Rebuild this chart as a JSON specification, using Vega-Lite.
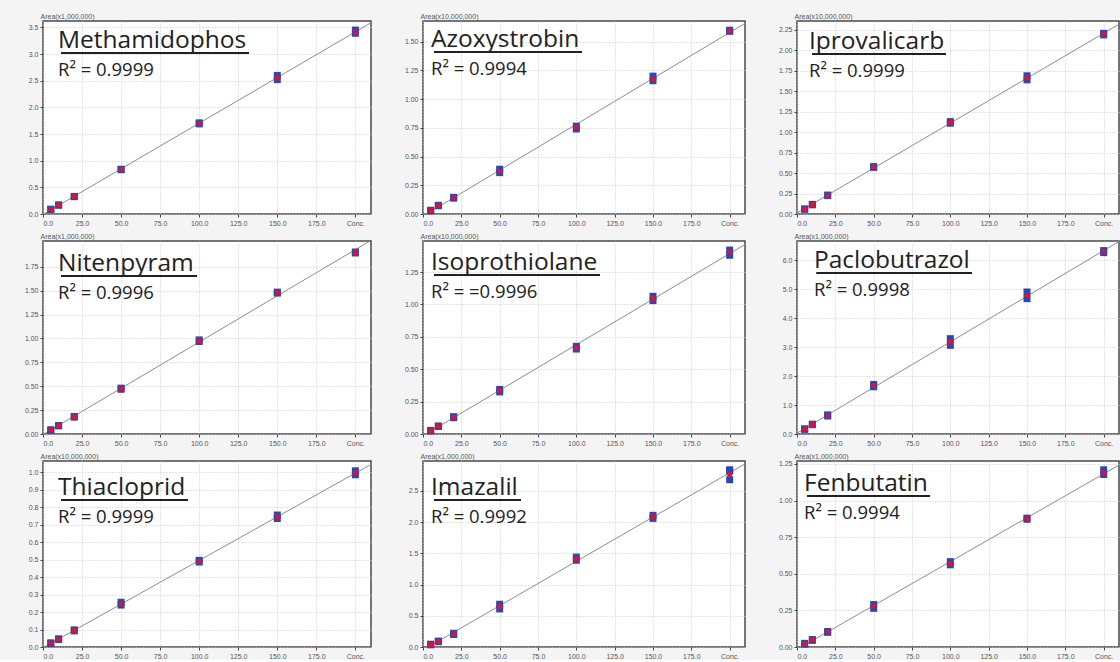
{
  "$schema": "https://vega.github.io/schema/vega-lite/v6.json",
  "background": "#f4f4f4",
  "padding": {"left": 23, "top": 11, "right": 0, "bottom": 0},
  "columns": 3,
  "align": "each",
  "bounds": "flush",
  "spacing": {"row": 27, "column": 52},
  "datasets": {
    "cal": [
      {"c": "Methamidophos", "x": 5, "y": 0.085, "k": "rep"},
      {"c": "Methamidophos", "x": 5, "y": 0.09, "k": "rep"},
      {"c": "Methamidophos", "x": 5, "y": 0.088, "k": "mean"},
      {"c": "Methamidophos", "x": 10, "y": 0.165, "k": "rep"},
      {"c": "Methamidophos", "x": 10, "y": 0.17, "k": "rep"},
      {"c": "Methamidophos", "x": 10, "y": 0.168, "k": "mean"},
      {"c": "Methamidophos", "x": 20, "y": 0.325, "k": "rep"},
      {"c": "Methamidophos", "x": 20, "y": 0.33, "k": "rep"},
      {"c": "Methamidophos", "x": 20, "y": 0.328, "k": "mean"},
      {"c": "Methamidophos", "x": 50, "y": 0.83, "k": "rep"},
      {"c": "Methamidophos", "x": 50, "y": 0.84, "k": "rep"},
      {"c": "Methamidophos", "x": 50, "y": 0.835, "k": "mean"},
      {"c": "Methamidophos", "x": 100, "y": 1.69, "k": "rep"},
      {"c": "Methamidophos", "x": 100, "y": 1.71, "k": "rep"},
      {"c": "Methamidophos", "x": 100, "y": 1.7, "k": "mean"},
      {"c": "Methamidophos", "x": 150, "y": 2.52, "k": "rep"},
      {"c": "Methamidophos", "x": 150, "y": 2.6, "k": "rep"},
      {"c": "Methamidophos", "x": 150, "y": 2.55, "k": "mean"},
      {"c": "Methamidophos", "x": 200, "y": 3.39, "k": "rep"},
      {"c": "Methamidophos", "x": 200, "y": 3.45, "k": "rep"},
      {"c": "Methamidophos", "x": 200, "y": 3.41, "k": "mean"},

      {"c": "Azoxystrobin", "x": 5, "y": 0.028, "k": "rep"},
      {"c": "Azoxystrobin", "x": 5, "y": 0.033, "k": "rep"},
      {"c": "Azoxystrobin", "x": 5, "y": 0.03, "k": "mean"},
      {"c": "Azoxystrobin", "x": 10, "y": 0.072, "k": "rep"},
      {"c": "Azoxystrobin", "x": 10, "y": 0.076, "k": "rep"},
      {"c": "Azoxystrobin", "x": 10, "y": 0.074, "k": "mean"},
      {"c": "Azoxystrobin", "x": 20, "y": 0.138, "k": "rep"},
      {"c": "Azoxystrobin", "x": 20, "y": 0.145, "k": "rep"},
      {"c": "Azoxystrobin", "x": 20, "y": 0.141, "k": "mean"},
      {"c": "Azoxystrobin", "x": 50, "y": 0.36, "k": "rep"},
      {"c": "Azoxystrobin", "x": 50, "y": 0.39, "k": "rep"},
      {"c": "Azoxystrobin", "x": 50, "y": 0.372, "k": "mean"},
      {"c": "Azoxystrobin", "x": 100, "y": 0.74, "k": "rep"},
      {"c": "Azoxystrobin", "x": 100, "y": 0.765, "k": "rep"},
      {"c": "Azoxystrobin", "x": 100, "y": 0.755, "k": "mean"},
      {"c": "Azoxystrobin", "x": 150, "y": 1.16, "k": "rep"},
      {"c": "Azoxystrobin", "x": 150, "y": 1.2, "k": "rep"},
      {"c": "Azoxystrobin", "x": 150, "y": 1.175, "k": "mean"},
      {"c": "Azoxystrobin", "x": 200, "y": 1.59, "k": "rep"},
      {"c": "Azoxystrobin", "x": 200, "y": 1.6, "k": "rep"},
      {"c": "Azoxystrobin", "x": 200, "y": 1.595, "k": "mean"},

      {"c": "Iprovalicarb", "x": 5, "y": 0.058, "k": "rep"},
      {"c": "Iprovalicarb", "x": 5, "y": 0.062, "k": "rep"},
      {"c": "Iprovalicarb", "x": 5, "y": 0.06, "k": "mean"},
      {"c": "Iprovalicarb", "x": 10, "y": 0.112, "k": "rep"},
      {"c": "Iprovalicarb", "x": 10, "y": 0.118, "k": "rep"},
      {"c": "Iprovalicarb", "x": 10, "y": 0.115, "k": "mean"},
      {"c": "Iprovalicarb", "x": 20, "y": 0.225, "k": "rep"},
      {"c": "Iprovalicarb", "x": 20, "y": 0.232, "k": "rep"},
      {"c": "Iprovalicarb", "x": 20, "y": 0.228, "k": "mean"},
      {"c": "Iprovalicarb", "x": 50, "y": 0.57, "k": "rep"},
      {"c": "Iprovalicarb", "x": 50, "y": 0.58, "k": "rep"},
      {"c": "Iprovalicarb", "x": 50, "y": 0.575, "k": "mean"},
      {"c": "Iprovalicarb", "x": 100, "y": 1.11, "k": "rep"},
      {"c": "Iprovalicarb", "x": 100, "y": 1.13, "k": "rep"},
      {"c": "Iprovalicarb", "x": 100, "y": 1.12, "k": "mean"},
      {"c": "Iprovalicarb", "x": 150, "y": 1.64, "k": "rep"},
      {"c": "Iprovalicarb", "x": 150, "y": 1.69, "k": "rep"},
      {"c": "Iprovalicarb", "x": 150, "y": 1.665, "k": "mean"},
      {"c": "Iprovalicarb", "x": 200, "y": 2.19, "k": "rep"},
      {"c": "Iprovalicarb", "x": 200, "y": 2.21, "k": "rep"},
      {"c": "Iprovalicarb", "x": 200, "y": 2.2, "k": "mean"},

      {"c": "Nitenpyram", "x": 5, "y": 0.04, "k": "rep"},
      {"c": "Nitenpyram", "x": 5, "y": 0.044, "k": "rep"},
      {"c": "Nitenpyram", "x": 5, "y": 0.042, "k": "mean"},
      {"c": "Nitenpyram", "x": 10, "y": 0.085, "k": "rep"},
      {"c": "Nitenpyram", "x": 10, "y": 0.089, "k": "rep"},
      {"c": "Nitenpyram", "x": 10, "y": 0.087, "k": "mean"},
      {"c": "Nitenpyram", "x": 20, "y": 0.176, "k": "rep"},
      {"c": "Nitenpyram", "x": 20, "y": 0.184, "k": "rep"},
      {"c": "Nitenpyram", "x": 20, "y": 0.18, "k": "mean"},
      {"c": "Nitenpyram", "x": 50, "y": 0.468, "k": "rep"},
      {"c": "Nitenpyram", "x": 50, "y": 0.48, "k": "rep"},
      {"c": "Nitenpyram", "x": 50, "y": 0.474, "k": "mean"},
      {"c": "Nitenpyram", "x": 100, "y": 0.968, "k": "rep"},
      {"c": "Nitenpyram", "x": 100, "y": 0.985, "k": "rep"},
      {"c": "Nitenpyram", "x": 100, "y": 0.976, "k": "mean"},
      {"c": "Nitenpyram", "x": 150, "y": 1.475, "k": "rep"},
      {"c": "Nitenpyram", "x": 150, "y": 1.485, "k": "rep"},
      {"c": "Nitenpyram", "x": 150, "y": 1.48, "k": "mean"},
      {"c": "Nitenpyram", "x": 200, "y": 1.895, "k": "rep"},
      {"c": "Nitenpyram", "x": 200, "y": 1.905, "k": "rep"},
      {"c": "Nitenpyram", "x": 200, "y": 1.9, "k": "mean"},

      {"c": "Isoprothiolane", "x": 5, "y": 0.024, "k": "rep"},
      {"c": "Isoprothiolane", "x": 5, "y": 0.028, "k": "rep"},
      {"c": "Isoprothiolane", "x": 5, "y": 0.026, "k": "mean"},
      {"c": "Isoprothiolane", "x": 10, "y": 0.058, "k": "rep"},
      {"c": "Isoprothiolane", "x": 10, "y": 0.062, "k": "rep"},
      {"c": "Isoprothiolane", "x": 10, "y": 0.06, "k": "mean"},
      {"c": "Isoprothiolane", "x": 20, "y": 0.126, "k": "rep"},
      {"c": "Isoprothiolane", "x": 20, "y": 0.134, "k": "rep"},
      {"c": "Isoprothiolane", "x": 20, "y": 0.13, "k": "mean"},
      {"c": "Isoprothiolane", "x": 50, "y": 0.325, "k": "rep"},
      {"c": "Isoprothiolane", "x": 50, "y": 0.344, "k": "rep"},
      {"c": "Isoprothiolane", "x": 50, "y": 0.336, "k": "mean"},
      {"c": "Isoprothiolane", "x": 100, "y": 0.656, "k": "rep"},
      {"c": "Isoprothiolane", "x": 100, "y": 0.677, "k": "rep"},
      {"c": "Isoprothiolane", "x": 100, "y": 0.667, "k": "mean"},
      {"c": "Isoprothiolane", "x": 150, "y": 1.03, "k": "rep"},
      {"c": "Isoprothiolane", "x": 150, "y": 1.063, "k": "rep"},
      {"c": "Isoprothiolane", "x": 150, "y": 1.047, "k": "mean"},
      {"c": "Isoprothiolane", "x": 200, "y": 1.38, "k": "rep"},
      {"c": "Isoprothiolane", "x": 200, "y": 1.42, "k": "rep"},
      {"c": "Isoprothiolane", "x": 200, "y": 1.406, "k": "mean"},

      {"c": "Paclobutrazol", "x": 5, "y": 0.16, "k": "rep"},
      {"c": "Paclobutrazol", "x": 5, "y": 0.18, "k": "rep"},
      {"c": "Paclobutrazol", "x": 5, "y": 0.17, "k": "mean"},
      {"c": "Paclobutrazol", "x": 10, "y": 0.32, "k": "rep"},
      {"c": "Paclobutrazol", "x": 10, "y": 0.34, "k": "rep"},
      {"c": "Paclobutrazol", "x": 10, "y": 0.33, "k": "mean"},
      {"c": "Paclobutrazol", "x": 20, "y": 0.62, "k": "rep"},
      {"c": "Paclobutrazol", "x": 20, "y": 0.66, "k": "rep"},
      {"c": "Paclobutrazol", "x": 20, "y": 0.64, "k": "mean"},
      {"c": "Paclobutrazol", "x": 50, "y": 1.63, "k": "rep"},
      {"c": "Paclobutrazol", "x": 50, "y": 1.71, "k": "rep"},
      {"c": "Paclobutrazol", "x": 50, "y": 1.67, "k": "mean"},
      {"c": "Paclobutrazol", "x": 100, "y": 3.06, "k": "rep"},
      {"c": "Paclobutrazol", "x": 100, "y": 3.29, "k": "rep"},
      {"c": "Paclobutrazol", "x": 100, "y": 3.17, "k": "mean"},
      {"c": "Paclobutrazol", "x": 150, "y": 4.67, "k": "rep"},
      {"c": "Paclobutrazol", "x": 150, "y": 4.9, "k": "rep"},
      {"c": "Paclobutrazol", "x": 150, "y": 4.79, "k": "mean"},
      {"c": "Paclobutrazol", "x": 200, "y": 6.26, "k": "rep"},
      {"c": "Paclobutrazol", "x": 200, "y": 6.33, "k": "rep"},
      {"c": "Paclobutrazol", "x": 200, "y": 6.3, "k": "mean"},

      {"c": "Thiacloprid", "x": 5, "y": 0.02, "k": "rep"},
      {"c": "Thiacloprid", "x": 5, "y": 0.024, "k": "rep"},
      {"c": "Thiacloprid", "x": 5, "y": 0.022, "k": "mean"},
      {"c": "Thiacloprid", "x": 10, "y": 0.043, "k": "rep"},
      {"c": "Thiacloprid", "x": 10, "y": 0.047, "k": "rep"},
      {"c": "Thiacloprid", "x": 10, "y": 0.045, "k": "mean"},
      {"c": "Thiacloprid", "x": 20, "y": 0.092, "k": "rep"},
      {"c": "Thiacloprid", "x": 20, "y": 0.098, "k": "rep"},
      {"c": "Thiacloprid", "x": 20, "y": 0.095, "k": "mean"},
      {"c": "Thiacloprid", "x": 50, "y": 0.24, "k": "rep"},
      {"c": "Thiacloprid", "x": 50, "y": 0.256, "k": "rep"},
      {"c": "Thiacloprid", "x": 50, "y": 0.247, "k": "mean"},
      {"c": "Thiacloprid", "x": 100, "y": 0.486, "k": "rep"},
      {"c": "Thiacloprid", "x": 100, "y": 0.496, "k": "rep"},
      {"c": "Thiacloprid", "x": 100, "y": 0.49, "k": "mean"},
      {"c": "Thiacloprid", "x": 150, "y": 0.735, "k": "rep"},
      {"c": "Thiacloprid", "x": 150, "y": 0.755, "k": "rep"},
      {"c": "Thiacloprid", "x": 150, "y": 0.745, "k": "mean"},
      {"c": "Thiacloprid", "x": 200, "y": 0.985, "k": "rep"},
      {"c": "Thiacloprid", "x": 200, "y": 1.008, "k": "rep"},
      {"c": "Thiacloprid", "x": 200, "y": 0.997, "k": "mean"},

      {"c": "Imazalil", "x": 5, "y": 0.035, "k": "rep"},
      {"c": "Imazalil", "x": 5, "y": 0.045, "k": "rep"},
      {"c": "Imazalil", "x": 5, "y": 0.04, "k": "mean"},
      {"c": "Imazalil", "x": 10, "y": 0.085, "k": "rep"},
      {"c": "Imazalil", "x": 10, "y": 0.095, "k": "rep"},
      {"c": "Imazalil", "x": 10, "y": 0.09, "k": "mean"},
      {"c": "Imazalil", "x": 20, "y": 0.2, "k": "rep"},
      {"c": "Imazalil", "x": 20, "y": 0.22, "k": "rep"},
      {"c": "Imazalil", "x": 20, "y": 0.21, "k": "mean"},
      {"c": "Imazalil", "x": 50, "y": 0.61, "k": "rep"},
      {"c": "Imazalil", "x": 50, "y": 0.685, "k": "rep"},
      {"c": "Imazalil", "x": 50, "y": 0.65, "k": "mean"},
      {"c": "Imazalil", "x": 100, "y": 1.39, "k": "rep"},
      {"c": "Imazalil", "x": 100, "y": 1.44, "k": "rep"},
      {"c": "Imazalil", "x": 100, "y": 1.41, "k": "mean"},
      {"c": "Imazalil", "x": 150, "y": 2.06, "k": "rep"},
      {"c": "Imazalil", "x": 150, "y": 2.11, "k": "rep"},
      {"c": "Imazalil", "x": 150, "y": 2.09, "k": "mean"},
      {"c": "Imazalil", "x": 200, "y": 2.68, "k": "rep"},
      {"c": "Imazalil", "x": 200, "y": 2.82, "k": "rep"},
      {"c": "Imazalil", "x": 200, "y": 2.84, "k": "rep"},
      {"c": "Imazalil", "x": 200, "y": 2.77, "k": "mean"},

      {"c": "Fenbutatin", "x": 5, "y": 0.019, "k": "rep"},
      {"c": "Fenbutatin", "x": 5, "y": 0.025, "k": "rep"},
      {"c": "Fenbutatin", "x": 5, "y": 0.022, "k": "mean"},
      {"c": "Fenbutatin", "x": 10, "y": 0.045, "k": "rep"},
      {"c": "Fenbutatin", "x": 10, "y": 0.051, "k": "rep"},
      {"c": "Fenbutatin", "x": 10, "y": 0.048, "k": "mean"},
      {"c": "Fenbutatin", "x": 20, "y": 0.1, "k": "rep"},
      {"c": "Fenbutatin", "x": 20, "y": 0.106, "k": "rep"},
      {"c": "Fenbutatin", "x": 20, "y": 0.103, "k": "mean"},
      {"c": "Fenbutatin", "x": 50, "y": 0.264, "k": "rep"},
      {"c": "Fenbutatin", "x": 50, "y": 0.29, "k": "rep"},
      {"c": "Fenbutatin", "x": 50, "y": 0.279, "k": "mean"},
      {"c": "Fenbutatin", "x": 100, "y": 0.561, "k": "rep"},
      {"c": "Fenbutatin", "x": 100, "y": 0.583, "k": "rep"},
      {"c": "Fenbutatin", "x": 100, "y": 0.568, "k": "mean"},
      {"c": "Fenbutatin", "x": 150, "y": 0.872, "k": "rep"},
      {"c": "Fenbutatin", "x": 150, "y": 0.88, "k": "rep"},
      {"c": "Fenbutatin", "x": 150, "y": 0.876, "k": "mean"},
      {"c": "Fenbutatin", "x": 200, "y": 1.178, "k": "rep"},
      {"c": "Fenbutatin", "x": 200, "y": 1.21, "k": "rep"},
      {"c": "Fenbutatin", "x": 200, "y": 1.19, "k": "mean"}
    ]
  },
  "concat": [
    {
      "width": 328, "height": 193,
      "title": {"text": "Methamidophos", "subtitle": "R² = 0.9999", "dx": 15, "dy": 72},
      "data": {"name": "cal"},
      "transform": [{"filter": "datum.c == 'Methamidophos'"}],
      "encoding": {
        "x": {"field": "x", "type": "quantitative", "scale": {"domain": [0, 210], "nice": false, "zero": false}, "axis": {"values": [0, 25, 50, 75, 100, 125, 150, 175, 200], "labelExpr": "datum.value == 200 ? 'Conc.' : format(datum.value, '.1f')", "title": null}},
        "y": {"field": "y", "type": "quantitative", "scale": {"domain": [0, 3.62], "nice": false, "zero": false}, "axis": {"values": [0, 0.5, 1, 1.5, 2, 2.5, 3, 3.5], "format": ".1f", "title": "Area(x1,000,000)"}}
      },
      "layer": [
        {"mark": {"type": "rule", "color": "#222", "strokeWidth": 1.5}, "encoding": {"x": {"datum": 11.5}, "x2": {"datum": 131.9}, "y": {"datum": 3.02}}},
        {"transform": [{"filter": "datum.k == 'rep'"}, {"regression": "y", "on": "x", "extent": [0, 210]}], "mark": {"type": "line", "color": "#8c8c8c", "strokeWidth": 1, "clip": true}},
        {"transform": [{"filter": "datum.k == 'rep'"}], "mark": {"type": "square", "size": 49, "color": "#2e46b4", "opacity": 1}},
        {"transform": [{"filter": "datum.k == 'mean'"}], "mark": {"type": "square", "size": 22, "color": "#e3112c", "opacity": 1}}
      ]
    },
    {
      "width": 322, "height": 193,
      "title": {"text": "Azoxystrobin", "subtitle": "R² = 0.9994", "dx": 8, "dy": 71},
      "data": {"name": "cal"},
      "transform": [{"filter": "datum.c == 'Azoxystrobin'"}],
      "encoding": {
        "x": {"field": "x", "type": "quantitative", "scale": {"domain": [0, 210], "nice": false, "zero": false}, "axis": {"values": [0, 25, 50, 75, 100, 125, 150, 175, 200], "labelExpr": "datum.value == 200 ? 'Conc.' : format(datum.value, '.1f')", "title": null}},
        "y": {"field": "y", "type": "quantitative", "scale": {"domain": [0, 1.68], "nice": false, "zero": false}, "axis": {"values": [0, 0.25, 0.5, 0.75, 1, 1.25, 1.5], "format": ".2f", "title": "Area(x10,000,000)"}}
      },
      "layer": [
        {"mark": {"type": "rule", "color": "#222", "strokeWidth": 1.5}, "encoding": {"x": {"datum": 7.2}, "x2": {"datum": 103.7}, "y": {"datum": 1.41}}},
        {"transform": [{"filter": "datum.k == 'rep'"}, {"regression": "y", "on": "x", "extent": [0, 210]}], "mark": {"type": "line", "color": "#8c8c8c", "strokeWidth": 1, "clip": true}},
        {"transform": [{"filter": "datum.k == 'rep'"}], "mark": {"type": "square", "size": 49, "color": "#2e46b4", "opacity": 1}},
        {"transform": [{"filter": "datum.k == 'mean'"}], "mark": {"type": "square", "size": 22, "color": "#e3112c", "opacity": 1}}
      ]
    },
    {
      "width": 322, "height": 193,
      "title": {"text": "Iprovalicarb", "subtitle": "R² = 0.9999", "dx": 12, "dy": 73},
      "data": {"name": "cal"},
      "transform": [{"filter": "datum.c == 'Iprovalicarb'"}],
      "encoding": {
        "x": {"field": "x", "type": "quantitative", "scale": {"domain": [0, 210], "nice": false, "zero": false}, "axis": {"values": [0, 25, 50, 75, 100, 125, 150, 175, 200], "labelExpr": "datum.value == 200 ? 'Conc.' : format(datum.value, '.1f')", "title": null}},
        "y": {"field": "y", "type": "quantitative", "scale": {"domain": [0, 2.36], "nice": false, "zero": false}, "axis": {"values": [0, 0.25, 0.5, 0.75, 1, 1.25, 1.5, 1.75, 2, 2.25], "format": ".2f", "title": "Area(x10,000,000)"}}
      },
      "layer": [
        {"mark": {"type": "rule", "color": "#222", "strokeWidth": 1.5}, "encoding": {"x": {"datum": 9.8}, "x2": {"datum": 97.2}, "y": {"datum": 1.956}}},
        {"transform": [{"filter": "datum.k == 'rep'"}, {"regression": "y", "on": "x", "extent": [0, 210]}], "mark": {"type": "line", "color": "#8c8c8c", "strokeWidth": 1, "clip": true}},
        {"transform": [{"filter": "datum.k == 'rep'"}], "mark": {"type": "square", "size": 49, "color": "#2e46b4", "opacity": 1}},
        {"transform": [{"filter": "datum.k == 'mean'"}], "mark": {"type": "square", "size": 22, "color": "#e3112c", "opacity": 1}}
      ]
    },
    {
      "width": 328, "height": 193,
      "title": {"text": "Nitenpyram", "subtitle": "R² = 0.9996", "dx": 15, "dy": 75},
      "data": {"name": "cal"},
      "transform": [{"filter": "datum.c == 'Nitenpyram'"}],
      "encoding": {
        "x": {"field": "x", "type": "quantitative", "scale": {"domain": [0, 210], "nice": false, "zero": false}, "axis": {"values": [0, 25, 50, 75, 100, 125, 150, 175, 200], "labelExpr": "datum.value == 200 ? 'Conc.' : format(datum.value, '.1f')", "title": null}},
        "y": {"field": "y", "type": "quantitative", "scale": {"domain": [0, 2.02], "nice": false, "zero": false}, "axis": {"values": [0, 0.25, 0.5, 0.75, 1, 1.25, 1.5, 1.75], "format": ".2f", "title": "Area(x1,000,000)"}}
      },
      "layer": [
        {"mark": {"type": "rule", "color": "#222", "strokeWidth": 1.5}, "encoding": {"x": {"datum": 11.5}, "x2": {"datum": 98.6}, "y": {"datum": 1.654}}},
        {"transform": [{"filter": "datum.k == 'rep'"}, {"regression": "y", "on": "x", "extent": [0, 210]}], "mark": {"type": "line", "color": "#8c8c8c", "strokeWidth": 1, "clip": true}},
        {"transform": [{"filter": "datum.k == 'rep'"}], "mark": {"type": "square", "size": 49, "color": "#2e46b4", "opacity": 1}},
        {"transform": [{"filter": "datum.k == 'mean'"}], "mark": {"type": "square", "size": 22, "color": "#e3112c", "opacity": 1}}
      ]
    },
    {
      "width": 322, "height": 193,
      "title": {"text": "Isoprothiolane", "subtitle": "R² = =0.9996", "dx": 8, "dy": 74},
      "data": {"name": "cal"},
      "transform": [{"filter": "datum.c == 'Isoprothiolane'"}],
      "encoding": {
        "x": {"field": "x", "type": "quantitative", "scale": {"domain": [0, 210], "nice": false, "zero": false}, "axis": {"values": [0, 25, 50, 75, 100, 125, 150, 175, 200], "labelExpr": "datum.value == 200 ? 'Conc.' : format(datum.value, '.1f')", "title": null}},
        "y": {"field": "y", "type": "quantitative", "scale": {"domain": [0, 1.49], "nice": false, "zero": false}, "axis": {"values": [0, 0.25, 0.5, 0.75, 1, 1.25], "format": ".2f", "title": "Area(x10,000,000)"}}
      },
      "layer": [
        {"mark": {"type": "rule", "color": "#222", "strokeWidth": 1.5}, "encoding": {"x": {"datum": 7.2}, "x2": {"datum": 115.4}, "y": {"datum": 1.2274}}},
        {"transform": [{"filter": "datum.k == 'rep'"}, {"regression": "y", "on": "x", "extent": [0, 210]}], "mark": {"type": "line", "color": "#8c8c8c", "strokeWidth": 1, "clip": true}},
        {"transform": [{"filter": "datum.k == 'rep'"}], "mark": {"type": "square", "size": 49, "color": "#2e46b4", "opacity": 1}},
        {"transform": [{"filter": "datum.k == 'mean'"}], "mark": {"type": "square", "size": 22, "color": "#e3112c", "opacity": 1}}
      ]
    },
    {
      "width": 322, "height": 193,
      "title": {"text": "Paclobutrazol", "subtitle": "R² = 0.9998", "dx": 17, "dy": 72},
      "data": {"name": "cal"},
      "transform": [{"filter": "datum.c == 'Paclobutrazol'"}],
      "encoding": {
        "x": {"field": "x", "type": "quantitative", "scale": {"domain": [0, 210], "nice": false, "zero": false}, "axis": {"values": [0, 25, 50, 75, 100, 125, 150, 175, 200], "labelExpr": "datum.value == 200 ? 'Conc.' : format(datum.value, '.1f')", "title": null}},
        "y": {"field": "y", "type": "quantitative", "scale": {"domain": [0, 6.66], "nice": false, "zero": false}, "axis": {"values": [0, 1, 2, 3, 4, 5, 6], "format": ".1f", "title": "Area(x1,000,000)"}}
      },
      "layer": [
        {"mark": {"type": "rule", "color": "#222", "strokeWidth": 1.5}, "encoding": {"x": {"datum": 13.0}, "x2": {"datum": 114.1}, "y": {"datum": 5.556}}},
        {"transform": [{"filter": "datum.k == 'rep'"}, {"regression": "y", "on": "x", "extent": [0, 210]}], "mark": {"type": "line", "color": "#8c8c8c", "strokeWidth": 1, "clip": true}},
        {"transform": [{"filter": "datum.k == 'rep'"}], "mark": {"type": "square", "size": 49, "color": "#2e46b4", "opacity": 1}},
        {"transform": [{"filter": "datum.k == 'mean'"}], "mark": {"type": "square", "size": 22, "color": "#e3112c", "opacity": 1}}
      ]
    },
    {
      "width": 328, "height": 186,
      "title": {"text": "Thiacloprid", "subtitle": "R² = 0.9999", "dx": 15, "dy": 79},
      "data": {"name": "cal"},
      "transform": [{"filter": "datum.c == 'Thiacloprid'"}],
      "encoding": {
        "x": {"field": "x", "type": "quantitative", "scale": {"domain": [0, 210], "nice": false, "zero": false}, "axis": {"values": [0, 25, 50, 75, 100, 125, 150, 175, 200], "labelExpr": "datum.value == 200 ? 'Conc.' : format(datum.value, '.1f')", "title": null}},
        "y": {"field": "y", "type": "quantitative", "scale": {"domain": [0, 1.064], "nice": false, "zero": false}, "axis": {"values": [0, 0.1, 0.2, 0.3, 0.4, 0.5, 0.6, 0.7, 0.8, 0.9, 1], "format": ".1f", "title": "Area(x10,000,000)"}}
      },
      "layer": [
        {"mark": {"type": "rule", "color": "#222", "strokeWidth": 1.5}, "encoding": {"x": {"datum": 11.5}, "x2": {"datum": 92.8}, "y": {"datum": 0.8409}}},
        {"transform": [{"filter": "datum.k == 'rep'"}, {"regression": "y", "on": "x", "extent": [0, 210]}], "mark": {"type": "line", "color": "#8c8c8c", "strokeWidth": 1, "clip": true}},
        {"transform": [{"filter": "datum.k == 'rep'"}], "mark": {"type": "square", "size": 49, "color": "#2e46b4", "opacity": 1}},
        {"transform": [{"filter": "datum.k == 'mean'"}], "mark": {"type": "square", "size": 22, "color": "#e3112c", "opacity": 1}}
      ]
    },
    {
      "width": 322, "height": 186,
      "title": {"text": "Imazalil", "subtitle": "R² = 0.9992", "dx": 8, "dy": 79},
      "data": {"name": "cal"},
      "transform": [{"filter": "datum.c == 'Imazalil'"}],
      "encoding": {
        "x": {"field": "x", "type": "quantitative", "scale": {"domain": [0, 210], "nice": false, "zero": false}, "axis": {"values": [0, 25, 50, 75, 100, 125, 150, 175, 200], "labelExpr": "datum.value == 200 ? 'Conc.' : format(datum.value, '.1f')", "title": null}},
        "y": {"field": "y", "type": "quantitative", "scale": {"domain": [0, 2.98], "nice": false, "zero": false}, "axis": {"values": [0, 0.5, 1, 1.5, 2, 2.5], "format": ".1f", "title": "Area(x1,000,000)"}}
      },
      "layer": [
        {"mark": {"type": "rule", "color": "#222", "strokeWidth": 1.5}, "encoding": {"x": {"datum": 7.2}, "x2": {"datum": 63.9}, "y": {"datum": 2.355}}},
        {"transform": [{"filter": "datum.k == 'rep'"}, {"regression": "y", "on": "x", "extent": [0, 210]}], "mark": {"type": "line", "color": "#8c8c8c", "strokeWidth": 1, "clip": true}},
        {"transform": [{"filter": "datum.k == 'rep'"}], "mark": {"type": "square", "size": 49, "color": "#2e46b4", "opacity": 1}},
        {"transform": [{"filter": "datum.k == 'mean'"}], "mark": {"type": "square", "size": 22, "color": "#e3112c", "opacity": 1}}
      ]
    },
    {
      "width": 322, "height": 186,
      "title": {"text": "Fenbutatin", "subtitle": "R² = 0.9994", "dx": 7, "dy": 75},
      "data": {"name": "cal"},
      "transform": [{"filter": "datum.c == 'Fenbutatin'"}],
      "encoding": {
        "x": {"field": "x", "type": "quantitative", "scale": {"domain": [0, 210], "nice": false, "zero": false}, "axis": {"values": [0, 25, 50, 75, 100, 125, 150, 175, 200], "labelExpr": "datum.value == 200 ? 'Conc.' : format(datum.value, '.1f')", "title": null}},
        "y": {"field": "y", "type": "quantitative", "scale": {"domain": [0, 1.27], "nice": false, "zero": false}, "axis": {"values": [0, 0.25, 0.5, 0.75, 1, 1.25], "format": ".2f", "title": "Area(x1,000,000)"}}
      },
      "layer": [
        {"mark": {"type": "rule", "color": "#222", "strokeWidth": 1.5}, "encoding": {"x": {"datum": 6.5}, "x2": {"datum": 86.7}, "y": {"datum": 1.031}}},
        {"transform": [{"filter": "datum.k == 'rep'"}, {"regression": "y", "on": "x", "extent": [0, 210]}], "mark": {"type": "line", "color": "#8c8c8c", "strokeWidth": 1, "clip": true}},
        {"transform": [{"filter": "datum.k == 'rep'"}], "mark": {"type": "square", "size": 49, "color": "#2e46b4", "opacity": 1}},
        {"transform": [{"filter": "datum.k == 'mean'"}], "mark": {"type": "square", "size": 22, "color": "#e3112c", "opacity": 1}}
      ]
    }
  ],
  "config": {
    "view": {"stroke": "#4a4a4a", "strokeWidth": 1.5, "fill": "white"},
    "axis": {
      "labelFont": "Liberation Sans", "labelFontSize": 7, "labelColor": "#555",
      "tickSize": 3, "tickColor": "#444", "domain": false,
      "grid": true, "gridColor": "#c8c8c8", "gridDash": [1, 2], "gridWidth": 1,
      "labelPadding": 2
    },
    "axisY": {
      "titleAngle": 0, "titleAlign": "left", "titleBaseline": "alphabetic",
      "titleX": -3, "titleY": -3, "titleFont": "Liberation Sans", "titleFontSize": 7,
      "titleFontWeight": "normal", "titleColor": "#555"
    },
    "title": {
      "anchor": "start", "frame": "group", "orient": "top",
      "font": "Open Sans", "fontSize": 24.5, "fontWeight": "normal", "color": "#222",
      "subtitleFont": "Open Sans", "subtitleFontSize": 18.5, "subtitleColor": "#222",
      "subtitlePadding": 7.5, "offset": 0
    }
  }
}
